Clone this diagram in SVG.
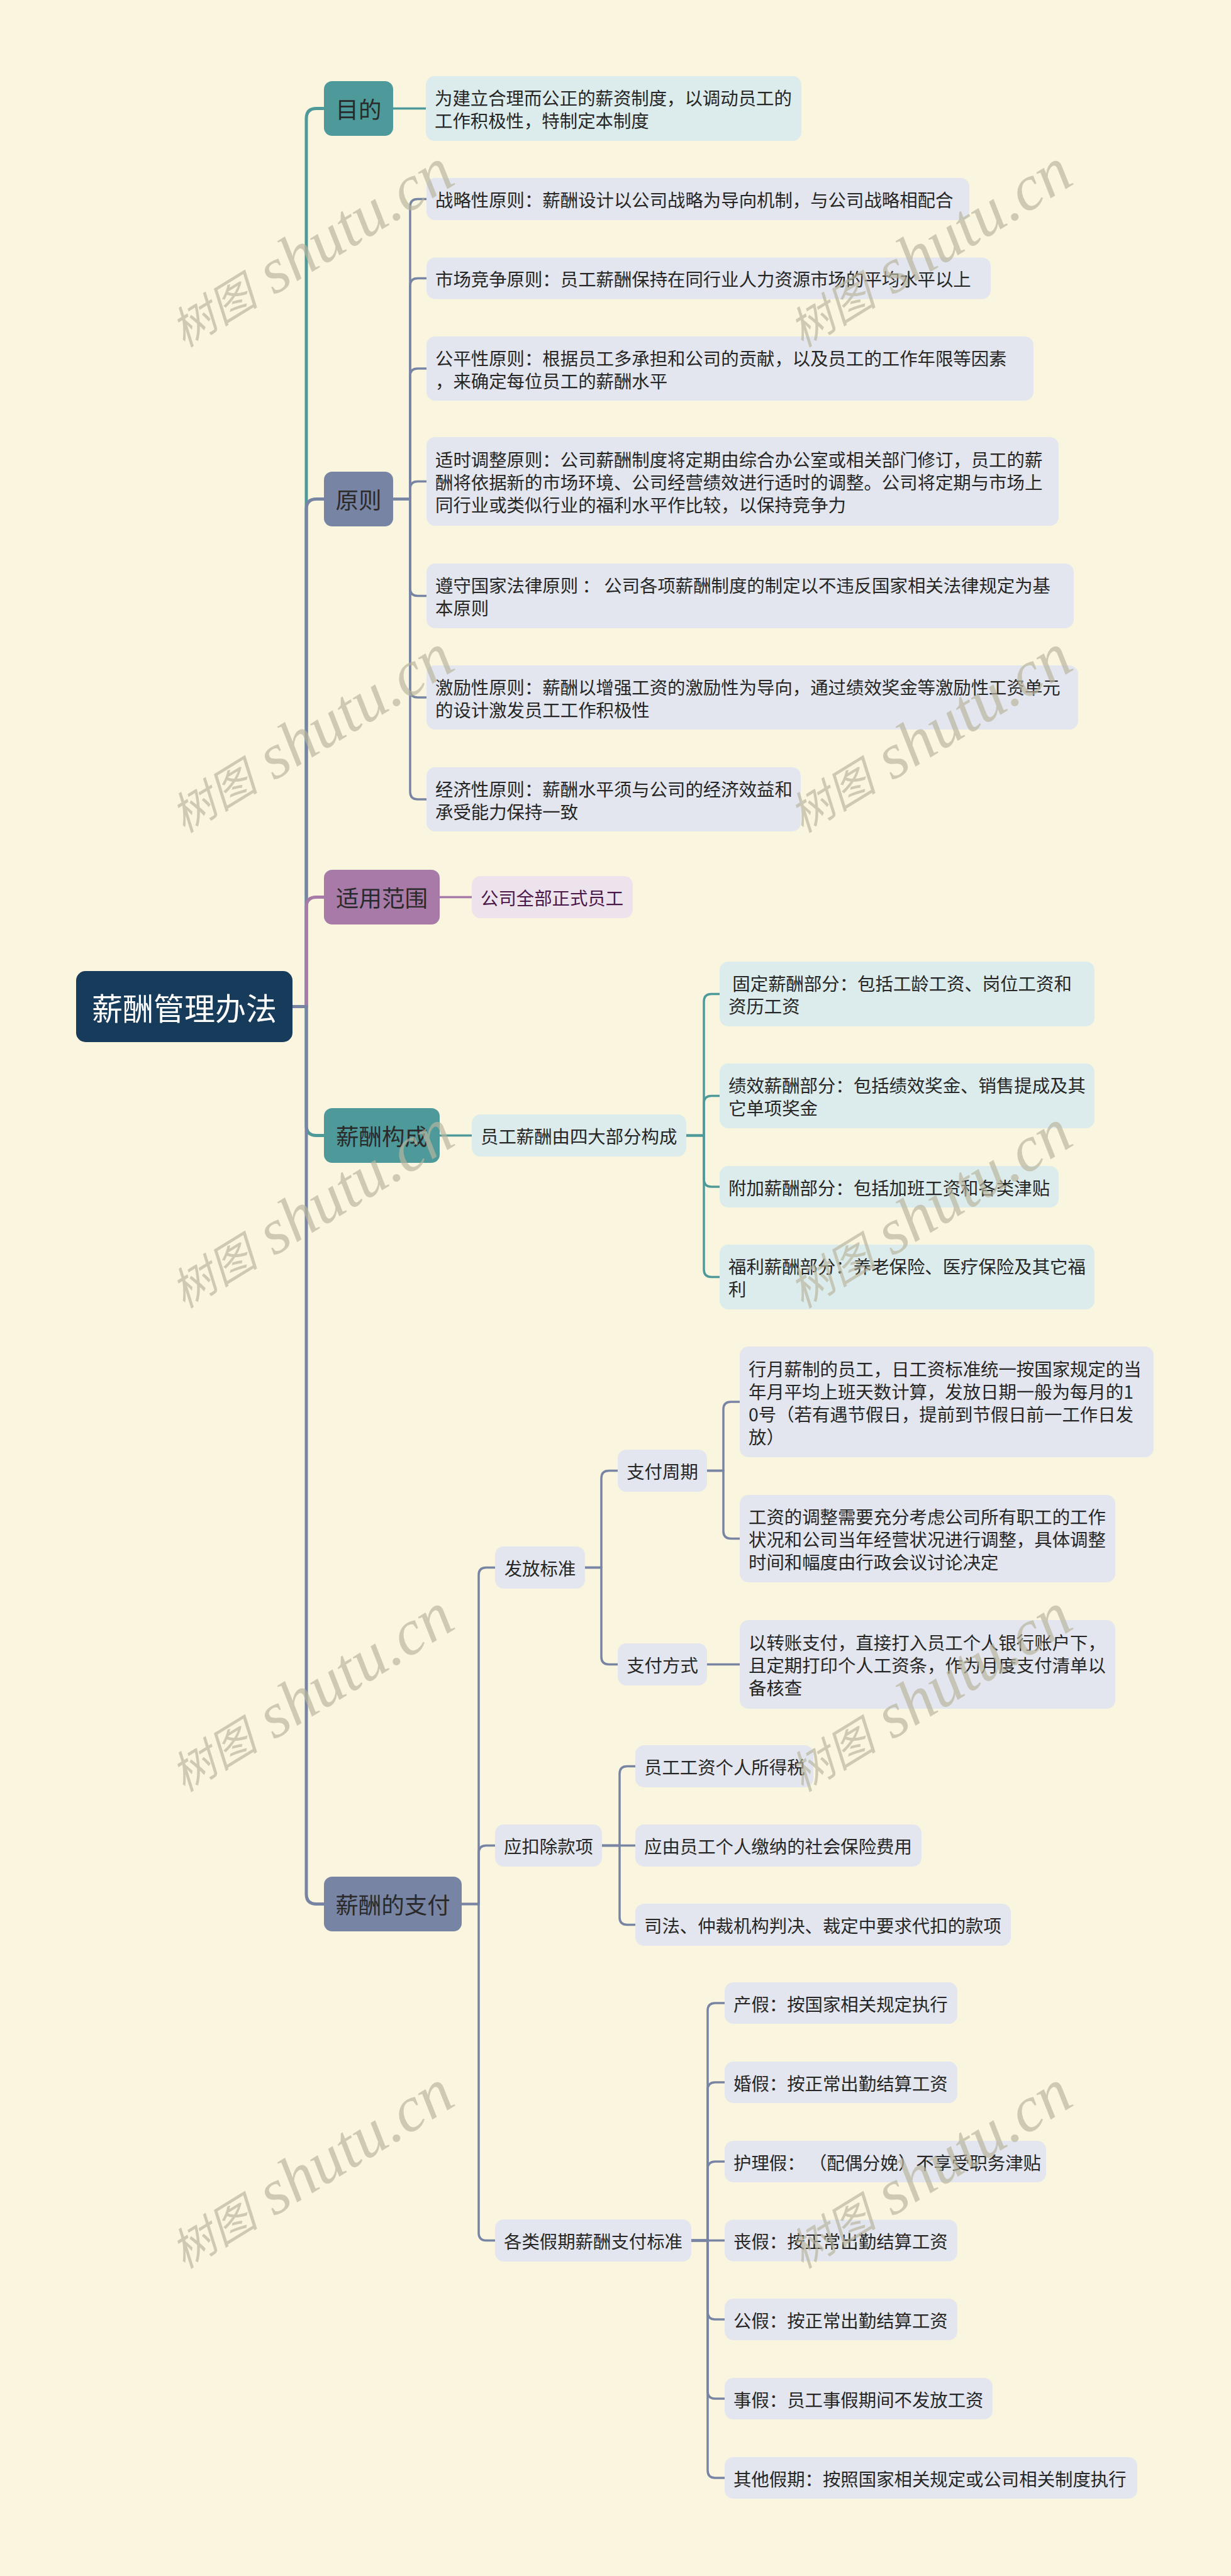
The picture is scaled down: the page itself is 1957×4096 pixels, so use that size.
<svg xmlns="http://www.w3.org/2000/svg" width="1957" height="4096" viewBox="0 0 1957 4096">
<style>
text{font-family:"Noto Sans CJK SC","Noto Sans",sans-serif;dominant-baseline:central}
.root{fill:#163b5b}
.rt{font-size:49px;fill:#ffffff;text-anchor:middle}
.teal{fill:#4e9a9a}
.slate{fill:#7884a4}
.purple{fill:#a87aa8}
.lteal{fill:#dcebeb}
.lslate{fill:#e3e6ee}
.lpurple{fill:#ede3ed}
.t1{font-size:36.5px;fill:#2a2a2a;text-anchor:middle}
.t2{font-size:28.4px;fill:#262626}
.tc{text-anchor:middle}
.tp{fill:#4a1848}
.c{fill:none;stroke-linecap:round;stroke-linejoin:round}
.c0{stroke-width:5}
.c1{stroke-width:3.5}
.cte{stroke:#4e9a9a}
.csl{stroke:#7884a4}
.cpu{stroke:#a87aa8}
.wm{font-family:"Liberation Serif","Noto Sans CJK SC",serif;font-style:italic;font-size:102px;fill:#b9b59e;opacity:0.68;text-anchor:middle}
.wm .cj{font-family:"Noto Sans CJK SC",serif;font-size:70px}
</style>
<rect x="0" y="0" width="1957" height="4096" fill="#faf5df"/>
<g id="connectors">
<path class="c c0 cte" d="M465,1600.5 H487 V188.5 Q487,172.5 503,172.5 H515"/>
<path class="c c0 csl" d="M465,1600.5 H487 V809.5 Q487,793.5 503,793.5 H515"/>
<path class="c c0 cpu" d="M465,1600.5 H487 V1442.5 Q487,1426.5 503,1426.5 H515"/>
<path class="c c0 cte" d="M465,1600.5 H487 V1789.5 Q487,1805.5 503,1805.5 H515"/>
<path class="c c0 csl" d="M465,1600.5 H487 V3011.5 Q487,3027.5 503,3027.5 H515"/>
<path class="c c1 cte" d="M625,172.5 H677"/>
<path class="c c1 csl" d="M625,793.5 H652 V328.5 Q652,316.5 664,316.5 H678"/>
<path class="c c1 csl" d="M625,793.5 H652 V454.5 Q652,442.5 664,442.5 H678"/>
<path class="c c1 csl" d="M625,793.5 H652 V598 Q652,586 664,586 H678"/>
<path class="c c1 csl" d="M625,793.5 H652 V777.5 Q652,765.5 664,765.5 H678"/>
<path class="c c1 csl" d="M625,793.5 H652 V935.5 Q652,947.5 664,947.5 H678"/>
<path class="c c1 csl" d="M625,793.5 H652 V1097 Q652,1109 664,1109 H678"/>
<path class="c c1 csl" d="M625,793.5 H652 V1259 Q652,1271 664,1271 H678"/>
<path class="c c1 cpu" d="M699,1426.5 H750"/>
<path class="c c1 cte" d="M699,1805.5 H750"/>
<path class="c c1 cte" d="M1091,1805.5 H1119 V1592.5 Q1119,1580.5 1131,1580.5 H1144"/>
<path class="c c1 cte" d="M1091,1805.5 H1119 V1754.5 Q1119,1742.5 1131,1742.5 H1144"/>
<path class="c c1 cte" d="M1091,1805.5 H1119 V1875 Q1119,1887 1131,1887 H1144"/>
<path class="c c1 cte" d="M1091,1805.5 H1119 V2018.5 Q1119,2030.5 1131,2030.5 H1144"/>
<path class="c c1 csl" d="M734,3027.5 H761 V2504.5 Q761,2492.5 773,2492.5 H787"/>
<path class="c c1 csl" d="M734,3027.5 H761 V2946.5 Q761,2934.5 773,2934.5 H787"/>
<path class="c c1 csl" d="M734,3027.5 H761 V3550.5 Q761,3562.5 773,3562.5 H787"/>
<path class="c c1 csl" d="M930,2492.5 H956 V2350.5 Q956,2338.5 968,2338.5 H982"/>
<path class="c c1 csl" d="M930,2492.5 H956 V2634.5 Q956,2646.5 968,2646.5 H982"/>
<path class="c c1 csl" d="M1124,2338.5 H1150 V2241 Q1150,2229 1162,2229 H1176"/>
<path class="c c1 csl" d="M1124,2338.5 H1150 V2434.5 Q1150,2446.5 1162,2446.5 H1176"/>
<path class="c c1 csl" d="M1124,2646.5 H1176"/>
<path class="c c1 csl" d="M957,2934.5 H985 V2820.5 Q985,2808.5 997,2808.5 H1010"/>
<path class="c c1 csl" d="M957,2934.5 H1010"/>
<path class="c c1 csl" d="M957,2934.5 H985 V3048.5 Q985,3060.5 997,3060.5 H1010"/>
<path class="c c1 csl" d="M1099,3562.5 H1125 V3197 Q1125,3185 1137,3185 H1152"/>
<path class="c c1 csl" d="M1099,3562.5 H1125 V3323 Q1125,3311 1137,3311 H1152"/>
<path class="c c1 csl" d="M1099,3562.5 H1125 V3449 Q1125,3437 1137,3437 H1152"/>
<path class="c c1 csl" d="M1099,3562.5 H1152"/>
<path class="c c1 csl" d="M1099,3562.5 H1125 V3676 Q1125,3688 1137,3688 H1152"/>
<path class="c c1 csl" d="M1099,3562.5 H1125 V3802 Q1125,3814 1137,3814 H1152"/>
<path class="c c1 csl" d="M1099,3562.5 H1125 V3928 Q1125,3940 1137,3940 H1152"/>
</g>
<g id="root"><rect class="root" x="121" y="1544" width="344" height="113" rx="15"/><text class="rt" x="293" y="1600.5">薪酬管理办法</text></g>
<g id="mudi"><rect class="teal" x="515" y="129" width="110" height="87" rx="13"/><text class="t1" x="570" y="172.5">目的</text></g>
<g id="mudi-1"><rect class="lteal" x="677" y="121" width="597" height="103" rx="14"/><text class="t2" x="691" y="154.5">为建立合理而公正的薪资制度，以调动员工的</text><text class="t2" x="691" y="190.5">工作积极性，特制定本制度</text></g>
<g id="yuanze"><rect class="slate" x="515" y="750" width="110" height="87" rx="13"/><text class="t1" x="570" y="793.5">原则</text></g>
<g id="yz-1"><rect class="lslate" x="678" y="283" width="863" height="67" rx="14"/><text class="t2" x="692" y="316.5">战略性原则：薪酬设计以公司战略为导向机制，与公司战略相配合</text></g>
<g id="yz-2"><rect class="lslate" x="678" y="409.5" width="897" height="66" rx="14"/><text class="t2" x="692" y="442.5">市场竞争原则：员工薪酬保持在同行业人力资源市场的平均水平以上</text></g>
<g id="yz-3"><rect class="lslate" x="678" y="535" width="965" height="102" rx="14"/><text class="t2" x="692" y="568">公平性原则：根据员工多承担和公司的贡献，以及员工的工作年限等因素</text><text class="t2" x="692" y="604">，来确定每位员工的薪酬水平</text></g>
<g id="yz-4"><rect class="lslate" x="678" y="695" width="1005" height="141" rx="14"/><text class="t2" x="692" y="729.5">适时调整原则：公司薪酬制度将定期由综合办公室或相关部门修订，员工的薪</text><text class="t2" x="692" y="765.5">酬将依据新的市场环境、公司经营绩效进行适时的调整。公司将定期与市场上</text><text class="t2" x="692" y="801.5">同行业或类似行业的福利水平作比较，以保持竞争力</text></g>
<g id="yz-5"><rect class="lslate" x="678" y="896" width="1029" height="103" rx="14"/><text class="t2" x="692" y="929.5" xml:space="preserve">遵守国家法律原则 ： 公司各项薪酬制度的制定以不违反国家相关法律规定为基</text><text class="t2" x="692" y="965.5">本原则</text></g>
<g id="yz-6"><rect class="lslate" x="678" y="1058" width="1036" height="102" rx="14"/><text class="t2" x="692" y="1091">激励性原则：薪酬以增强工资的激励性为导向，通过绩效奖金等激励性工资单元</text><text class="t2" x="692" y="1127">的设计激发员工工作积极性</text></g>
<g id="yz-7"><rect class="lslate" x="678" y="1220" width="595" height="102" rx="14"/><text class="t2" x="692" y="1253">经济性原则：薪酬水平须与公司的经济效益和</text><text class="t2" x="692" y="1289">承受能力保持一致</text></g>
<g id="fanwei"><rect class="purple" x="515" y="1383" width="184" height="87" rx="13"/><text class="t1" x="607" y="1426.5">适用范围</text></g>
<g id="fanwei-1"><rect class="lpurple" x="750" y="1393" width="256" height="67" rx="14"/><text class="t2 tp" x="764" y="1426.5">公司全部正式员工</text></g>
<g id="goucheng"><rect class="teal" x="515" y="1762" width="184" height="87" rx="13"/><text class="t1" x="607" y="1805.5">薪酬构成</text></g>
<g id="gc-1"><rect class="lteal" x="750" y="1772" width="341" height="67" rx="14"/><text class="t2" x="764" y="1805.5">员工薪酬由四大部分构成</text></g>
<g id="gc-1-1"><rect class="lteal" x="1144" y="1529" width="596" height="103" rx="14"/><text class="t2" x="1158" y="1562.5" xml:space="preserve"> 固定薪酬部分：包括工龄工资、岗位工资和</text><text class="t2" x="1158" y="1598.5">资历工资</text></g>
<g id="gc-1-2"><rect class="lteal" x="1144" y="1691" width="596" height="103" rx="14"/><text class="t2" x="1158" y="1724.5">绩效薪酬部分：包括绩效奖金、销售提成及其</text><text class="t2" x="1158" y="1760.5">它单项奖金</text></g>
<g id="gc-1-3"><rect class="lteal" x="1144" y="1854" width="539" height="66" rx="14"/><text class="t2" x="1158" y="1887">附加薪酬部分：包括加班工资和各类津贴</text></g>
<g id="gc-1-4"><rect class="lteal" x="1144" y="1979" width="596" height="103" rx="14"/><text class="t2" x="1158" y="2012.5">福利薪酬部分：养老保险、医疗保险及其它福</text><text class="t2" x="1158" y="2048.5">利</text></g>
<g id="zhifu"><rect class="slate" x="515" y="2984" width="219" height="87" rx="13"/><text class="t1" x="624.5" y="3027.5">薪酬的支付</text></g>
<g id="ffbz"><rect class="lslate" x="787" y="2459" width="143" height="67" rx="14"/><text class="t2 tc" x="858.5" y="2492.5">发放标准</text></g>
<g id="zfzq"><rect class="lslate" x="982" y="2305" width="142" height="67" rx="14"/><text class="t2 tc" x="1053" y="2338.5">支付周期</text></g>
<g id="zfzq-1"><rect class="lslate" x="1176" y="2141" width="658" height="176" rx="14"/><text class="t2" x="1190" y="2175">行月薪制的员工，日工资标准统一按国家规定的当</text><text class="t2" x="1190" y="2211">年月平均上班天数计算，发放日期一般为每月的1</text><text class="t2" x="1190" y="2247">0号（若有遇节假日，提前到节假日前一工作日发</text><text class="t2" x="1190" y="2283">放）</text></g>
<g id="zfzq-2"><rect class="lslate" x="1176" y="2377" width="597" height="139" rx="14"/><text class="t2" x="1190" y="2410.5">工资的调整需要充分考虑公司所有职工的工作</text><text class="t2" x="1190" y="2446.5">状况和公司当年经营状况进行调整，具体调整</text><text class="t2" x="1190" y="2482.5">时间和幅度由行政会议讨论决定</text></g>
<g id="zffs"><rect class="lslate" x="982" y="2613" width="142" height="67" rx="14"/><text class="t2 tc" x="1053" y="2646.5">支付方式</text></g>
<g id="zffs-1"><rect class="lslate" x="1176" y="2576" width="597" height="141" rx="14"/><text class="t2" x="1190" y="2610.5">以转账支付，直接打入员工个人银行账户下，</text><text class="t2" x="1190" y="2646.5">且定期打印个人工资条，作为月度支付清单以</text><text class="t2" x="1190" y="2682.5">备核查</text></g>
<g id="ykc"><rect class="lslate" x="787" y="2901" width="170" height="67" rx="14"/><text class="t2 tc" x="872" y="2934.5">应扣除款项</text></g>
<g id="ykc-1"><rect class="lslate" x="1010" y="2775" width="283" height="67" rx="14"/><text class="t2" x="1024" y="2808.5">员工工资个人所得税</text></g>
<g id="ykc-2"><rect class="lslate" x="1010" y="2901" width="455" height="67" rx="14"/><text class="t2" x="1024" y="2934.5">应由员工个人缴纳的社会保险费用</text></g>
<g id="ykc-3"><rect class="lslate" x="1010" y="3027" width="597" height="67" rx="14"/><text class="t2" x="1024" y="3060.5">司法、仲裁机构判决、裁定中要求代扣的款项</text></g>
<g id="jiaqi"><rect class="lslate" x="787" y="3529" width="312" height="67" rx="14"/><text class="t2 tc" x="943" y="3562.5">各类假期薪酬支付标准</text></g>
<g id="jq-1"><rect class="lslate" x="1152" y="3152" width="370" height="66" rx="14"/><text class="t2" x="1166" y="3185">产假：按国家相关规定执行</text></g>
<g id="jq-2"><rect class="lslate" x="1152" y="3278" width="370" height="66" rx="14"/><text class="t2" x="1166" y="3311">婚假：按正常出勤结算工资</text></g>
<g id="jq-3"><rect class="lslate" x="1152" y="3404" width="511" height="66" rx="14"/><text class="t2" x="1166" y="3437" xml:space="preserve">护理假： （配偶分娩）不享受职务津贴</text></g>
<g id="jq-4"><rect class="lslate" x="1152" y="3529.5" width="370" height="66" rx="14"/><text class="t2" x="1166" y="3562.5">丧假：按正常出勤结算工资</text></g>
<g id="jq-5"><rect class="lslate" x="1152" y="3655" width="370" height="66" rx="14"/><text class="t2" x="1166" y="3688">公假：按正常出勤结算工资</text></g>
<g id="jq-6"><rect class="lslate" x="1152" y="3781" width="426" height="66" rx="14"/><text class="t2" x="1166" y="3814">事假：员工事假期间不发放工资</text></g>
<g id="jq-7"><rect class="lslate" x="1152" y="3907" width="656" height="66" rx="14"/><text class="t2" x="1166" y="3940">其他假期：按照国家相关规定或公司相关制度执行</text></g>
<g id="watermarks">
<text class="wm" transform="translate(493,394) rotate(-31.5)"><tspan class="cj">树图</tspan> shutu.cn</text>
<text class="wm" transform="translate(1476,394) rotate(-31.5)"><tspan class="cj">树图</tspan> shutu.cn</text>
<text class="wm" transform="translate(493,1166) rotate(-31.5)"><tspan class="cj">树图</tspan> shutu.cn</text>
<text class="wm" transform="translate(1476,1166) rotate(-31.5)"><tspan class="cj">树图</tspan> shutu.cn</text>
<text class="wm" transform="translate(493,1922) rotate(-31.5)"><tspan class="cj">树图</tspan> shutu.cn</text>
<text class="wm" transform="translate(1476,1922) rotate(-31.5)"><tspan class="cj">树图</tspan> shutu.cn</text>
<text class="wm" transform="translate(493,2691) rotate(-31.5)"><tspan class="cj">树图</tspan> shutu.cn</text>
<text class="wm" transform="translate(1476,2691) rotate(-31.5)"><tspan class="cj">树图</tspan> shutu.cn</text>
<text class="wm" transform="translate(493,3449) rotate(-31.5)"><tspan class="cj">树图</tspan> shutu.cn</text>
<text class="wm" transform="translate(1476,3449) rotate(-31.5)"><tspan class="cj">树图</tspan> shutu.cn</text>
</g>
</svg>
